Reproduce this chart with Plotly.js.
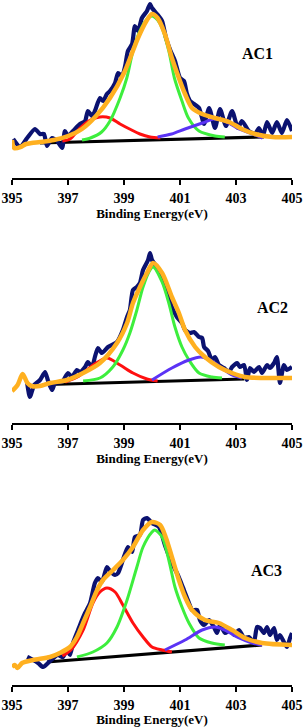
<!DOCTYPE html>
<html><head><meta charset="utf-8">
<script src="https://cdn.plot.ly/plotly-3.0.1.min.js"></script>
<style>html,body{margin:0;padding:0;background:#fff;}#chart{width:304px;height:727px;}</style>
</head><body><div id="chart"></div>
<script>
// ---------- AC1 ----------
const ac1E = [395.04,395.29,395.54,395.82,396.0,396.14,396.25,396.43,396.61,396.79,396.89,397.0,397.18,397.43,397.61,397.71,397.86,397.96,398.14,398.25,398.39,398.5,398.68,398.79,398.93,399.04,399.14,399.29,399.39,399.5,399.64,399.82,399.93,400.0,400.18,400.36,400.5,400.65,400.82,401.0,401.14,401.25,401.36,401.5,401.68,401.86,402.04,402.25,402.43,402.64,402.86,403.07,403.21,403.46,403.68,403.82,403.96,404.11,404.29,404.46,404.64,404.82,405.0];
const ac1I = [39,31,40,49,44,44,32,40,37,30,47,42,47,54,57,67,62,67,80,77,84,87,95,105,102,112,127,134,152,147,160,167,174,170,164,157,140,128,117,100,97,84,77,74,70,54,70,50,69,52,67,50,57,47,44,50,42,56,45,56,45,58,47];
const ac1FitE = [395.0,395.08,395.3,395.5,395.7,396.0,396.5,397.0,397.5,398.0,398.5,399.0,399.5,399.8,400.0,400.2,400.46,400.71,400.96,401.18,401.43,401.79,402.25,402.75,403.21,403.68,404.3,405.0];
const ac1FitI = [38,30,31,34,35,36,38,42,49,62,80,105,140,157,164,160,144,120,100,84,70,64,60,56,49,44,41,41];
const ac1RedE = [396.8,397.07,397.43,397.8,398.14,398.5,398.86,399.2,399.57,399.93,400.3];
const ac1RedI = [37,39,50,58,61,60,54,49,44,41,40];
const ac1GreenE = [397.5,397.8,398.2,398.5,398.86,399.1,399.32,399.57,399.82,400.0,400.2,400.36,400.6,400.8,401.07,401.3,401.68,402.25,402.6];
const ac1GreenI = [38,40,46,57,80,100,127,147,159,162,158,150,127,100,77,60,47,42,41];
const ac1BlueE = [400.2,400.7,401.18,401.8,402.2,402.6,403.1,403.6,403.95];
const ac1BlueI = [41,44,49,55,59,57,49,44,40];
const ac1BaseE = [396.0,404.0];
const ac1BaseI = [35,41];

// ---------- AC2 ----------
const ac2E = [395.54,395.64,395.79,396.0,396.18,396.29,396.43,396.54,396.79,397.0,397.14,397.32,397.43,397.61,397.71,397.86,397.96,398.07,398.21,398.43,398.75,398.96,399.11,399.21,399.32,399.46,399.57,399.68,399.86,399.93,400.0,400.25,400.39,400.54,400.71,400.89,401.07,401.18,401.36,401.5,401.68,401.79,401.86,402.0,402.14,402.25,402.39,402.57,402.75,402.86,403.04,403.14,403.29,403.39,403.5,403.64,403.82,403.93,404.11,404.21,404.36,404.46,404.57,404.71,404.82,405.0];
const ac2I = [40,26,38,43,51,42,33,40,41,50,46,53,51,56,61,56,66,75,70,76,81,93,106,113,133,136,140,153,163,170,163,153,146,133,116,106,100,93,90,91,86,85,76,72,63,66,58,55,51,56,60,56,58,43,55,51,56,50,58,55,60,66,40,58,53,56];
const ac2FitE = [395.0,395.2,395.38,395.55,395.7,396.0,396.36,396.96,397.54,398.14,398.75,399.11,399.32,399.57,399.82,400.04,400.36,400.71,400.96,401.18,401.54,401.89,402.39,402.86,403.32,404.0,405.0];
const ac2FitI = [32,38,49,40,37,37,40,43,50,60,80,100,120,136,150,160,150,126,110,93,76,66,56,50,46,45,45];
const ac2RedE = [396.9,397.4,397.9,398.39,398.86,399.32,399.82,400.2];
const ac2RedI = [41,47,58,65,58,50,44,42];
const ac2GreenE = [397.54,398.14,398.6,398.96,399.21,399.46,399.68,399.93,400.04,400.36,400.6,400.82,401.07,401.32,401.68,402.14,402.5];
const ac2GreenI = [42,45,56,73,90,113,136,153,156,141,120,96,76,63,50,46,45];
const ac2BlueE = [400.0,400.71,401.32,401.75,402.07,402.5,402.86,403.21];
const ac2BlueI = [43,55,63,66,63,55,48,45];
const ac2BaseE = [396.3,403.3];
const ac2BaseI = [38.5,44];

// ---------- AC3 ----------
const ac3E = [395.54,395.75,395.93,396.11,396.36,396.64,396.82,396.96,397.07,397.18,397.36,397.5,397.61,397.79,397.96,398.07,398.21,398.39,398.5,398.68,398.79,398.96,399.14,399.29,399.39,399.57,399.68,399.82,400.0,400.25,400.46,400.71,400.89,401.0,401.14,401.32,401.43,401.61,401.71,401.86,402.04,402.21,402.32,402.43,402.61,402.79,402.93,403.11,403.29,403.46,403.64,403.75,403.86,404.0,404.11,404.21,404.36,404.46,404.57,404.71,404.82,404.93,405.0];
const ac3I = [28,25,22,18,24,30,28,35,30,42,55,65,72,82,102,107,103,118,114,110,112,125,138,133,148,150,165,167,162,158,140,122,112,105,95,82,75,75,65,60,65,58,52,60,52,55,50,55,47,48,43,58,57,52,58,50,57,45,50,43,38,47,52];
const ac3FitE = [395.0,395.1,395.2,395.36,395.75,396.36,396.71,397.07,397.32,397.54,397.79,398.04,398.25,398.61,398.96,399.32,399.68,400.0,400.29,400.5,400.71,400.96,401.18,401.43,401.89,402.39,402.86,403.32,403.93,405.0];
const ac3FitI = [18,20,17,22,25,28,32,38,48,62,78,95,105,115,125,138,155,163,160,147,128,105,88,75,65,62,55,47,42,40];
const ac3RedE = [396.8,397.1,397.54,397.89,398.14,398.39,398.68,398.96,399.32,399.68,400.0,400.36,400.71];
const ac3RedI = [29,35,55,82,93,97,93,80,62,48,38,35,33];
const ac3GreenE = [397.32,397.89,398.39,398.75,399.11,399.46,399.68,400.0,400.1,400.36,400.6,400.82,401.07,401.32,401.68,402.14,402.6];
const ac3GreenI = [28,33,42,58,85,118,138,153,155,148,125,98,78,62,47,42,40];
const ac3BlueE = [400.46,401.18,401.79,402.25,402.6,403.11,403.57,403.93];
const ac3BlueI = [35,45,55,58,55,47,42,40];
const ac3BaseE = [396.25,403.93];
const ac3BaseI = [23,40];

const panelLabels = ['AC1','AC2','AC3'];
const tickVals = [395,397,399,401,403,405];
const xTitle = 'Binding Energy(eV)';

const C = {navy:'#0b1270', orange:'#FFB020', green:'#3DEE3D', red:'#FF1010', blue:'#5B33F5', black:'#000000'};

function panel(n, E, I, fE, fI, rE, rI, gE, gI, bE, bI, blE, blI) {
  const xa = n === 1 ? 'x' : 'x' + n, ya = n === 1 ? 'y' : 'y' + n;
  const t = (x, y, color, w, shape, sm) => ({x, y, xaxis: xa, yaxis: ya, type: 'scatter', mode: 'lines',
    line: {color, width: w, shape: shape || 'spline', smoothing: sm || 0.8}, hoverinfo: 'skip', showlegend: false});
  return [
    t(blE, blI, C.black, 3.2, 'linear'),
    t(E, I, C.navy, 4.2, 'spline', 0.6),
    t(rE, rI, C.red, 3),
    t(gE, gI, C.green, 3),
    t(bE, bI, C.blue, 3),
    t(fE, fI, C.orange, 4.5)
  ];
}

const data = [].concat(
  panel(1, ac1E, ac1I, ac1FitE, ac1FitI, ac1RedE, ac1RedI, ac1GreenE, ac1GreenI, ac1BlueE, ac1BlueI, ac1BaseE, ac1BaseI),
  panel(2, ac2E, ac2I, ac2FitE, ac2FitI, ac2RedE, ac2RedI, ac2GreenE, ac2GreenI, ac2BlueE, ac2BlueI, ac2BaseE, ac2BaseI),
  panel(3, ac3E, ac3I, ac3FitE, ac3FitI, ac3RedE, ac3RedI, ac3GreenE, ac3GreenI, ac3BlueE, ac3BlueI, ac3BaseE, ac3BaseI)
);

const serif = 'Liberation Serif, Times New Roman, serif';
function xAxis(anchor) {
  return {anchor, range: [395, 405], domain: [0, 1], showline: true, linecolor: '#000', linewidth: 1.5,
    ticks: 'outside', ticklen: 5, tickwidth: 1.5, tickcolor: '#000', tickvals: tickVals, ticklabelstandoff: 2,
    tickfont: {family: serif, size: 14, color: '#000', weight: 'bold'}, showgrid: false, zeroline: false,
    title: {text: xTitle, font: {family: serif, size: 13, color: '#000', weight: 'bold'}, standoff: 3},
    fixedrange: true};
}
function yAxis(domain, range) {
  return {domain, range, visible: false, showgrid: false, zeroline: false, fixedrange: true};
}

const layout = {
  width: 304, height: 727,
  margin: {l: 12, r: 12, t: 0, b: 42},
  paper_bgcolor: '#fff', plot_bgcolor: '#fff',
  xaxis: xAxis('y'), xaxis2: xAxis('y2'), xaxis3: xAxis('y3'),
  yaxis: yAxis([507/685, 1], [0, 178]),
  yaxis2: yAxis([262/685, 452/685], [0, 190]),
  yaxis3: yAxis([0, 210/685], [0, 210]),
  annotations: [
    {text: panelLabels[0], xref: 'x', yref: 'y', x: 403.75, y: 125, showarrow: false, font: {family: serif, size: 16, color: '#000', weight: 'bold'}},
    {text: panelLabels[1], xref: 'x2', yref: 'y2', x: 404.3, y: 116, showarrow: false, font: {family: serif, size: 16, color: '#000', weight: 'bold'}},
    {text: panelLabels[2], xref: 'x3', yref: 'y3', x: 404.1, y: 115, showarrow: false, font: {family: serif, size: 16, color: '#000', weight: 'bold'}}
  ],
  showlegend: false
};

Plotly.newPlot('chart', data, layout, {staticPlot: true, displayModeBar: false});
</script>
</body></html>
